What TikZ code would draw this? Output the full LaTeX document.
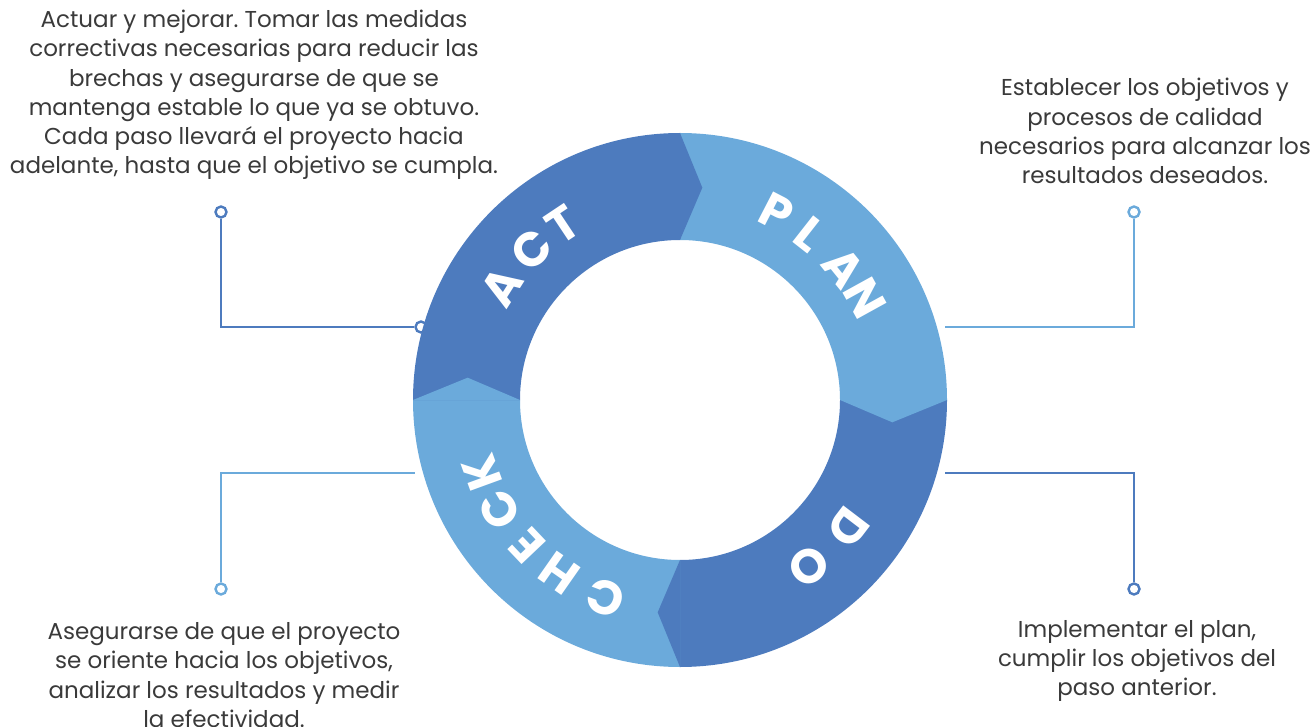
\documentclass[tikz,border=0pt]{standalone}
\usepackage{fontspec}
\setmainfont{Poppins}
\frenchspacing
\definecolor{darkb}{HTML}{4D7BBE}
\definecolor{lightb}{HTML}{6BAADB}
\definecolor{txt}{HTML}{3A3A3A}
\begin{document}
\begin{tikzpicture}[x=1pt,y=-1pt,
  conn/.style={line width=2.6pt},
  dot/.style={circle,draw,line width=2.4pt,fill=white,minimum size=11pt,inner sep=0pt},
  desc/.style={align=center,text=txt,font=\fontsize{23}{29.2}\selectfont,inner sep=0pt},
  letter/.style={text=white,font=\fontsize{48}{48}\bfseries\selectfont,inner sep=0pt}]
\useasboundingbox (0,0) rectangle (1312,727);

% connectors
\node[dot,draw=darkb] (actdot) at (221,212) {};
\coordinate (actcorner) at (221,327);
\node[dot,draw=darkb] (actring) at (421,327) {};
\draw[conn,darkb] (actdot) -- (actcorner) -- (actring);

\node[dot,draw=lightb] (plandot) at (1134,212) {};
\coordinate (plancorner) at (1134,327);
\coordinate (planring) at (945,327);
\draw[conn,lightb] (plandot) -- (plancorner) -- (planring);

\node[dot,draw=lightb] (checkdot) at (221,589) {};
\coordinate (checkcorner) at (221,473);
\coordinate (checkring) at (415,473);
\draw[conn,lightb] (checkdot) -- (checkcorner) -- (checkring);

\node[dot,draw=darkb] (dodot) at (1134,589) {};
\coordinate (docorner) at (1134,473);
\coordinate (doring) at (945,473);
\draw[conn,darkb] (dodot) -- (docorner) -- (doring);

% ring
\begin{scope}[shift={(680,400)},x=1pt,y=1pt]
\fill[lightb] (90:267) arc[start angle=90,end angle=0,radius=267] -- (0:160) arc[start angle=0,end angle=90,radius=160] -- cycle;
\fill[darkb] (0:267) arc[start angle=0,end angle=-90,radius=267] -- (-90:160) arc[start angle=-90,end angle=0,radius=160] -- cycle;
\fill[lightb] (-90:267) arc[start angle=-90,end angle=-180,radius=267] -- (-180:160) arc[start angle=-180,end angle=-90,radius=160] -- cycle;
\fill[darkb] (180:267) arc[start angle=180,end angle=90,radius=267] -- (90:160) arc[start angle=90,end angle=180,radius=160] -- cycle;
% chevrons
\fill[darkb] (90:267) -- (84:213.5) -- (90:160) -- cycle;
\fill[lightb] (0:267) -- (-6:213.5) -- (0:160) -- cycle;
\fill[darkb] (270:267) -- (264:213.5) -- (270:160) -- cycle;
\fill[lightb] (180:267) -- (174:213.5) -- (180:160) -- cycle;
% labels
\foreach \l/\a [count=\i] in {P/62.7,L/51.9,A/39,N/28.9}
  \node[letter,rotate=\a-90] (plan\i) at (\a:211) {\l};
\foreach \l/\a [count=\i] in {A/147.6,C/134.6,T/123.7}
  \node[letter,rotate=\a-90] (act\i) at (\a:211) {\l};
\foreach \l/\a [count=\i] in {D/-37.3,O/-52.2}
  \node[letter,rotate=\a-90] (do\i) at (\a:211) {\l};
\foreach \l/\a [count=\i] in {C/249.3,H/235,E/223.5,C/211.4,K/200}
  \node[letter,rotate=\a-90] (check\i) at (\a:211) {\l};
\end{scope}

% texts
\node[desc] (acttext) at (254,95) {Actuar y mejorar. Tomar las medidas\\correctivas necesarias para reducir las\\brechas y asegurarse de que se\\mantenga estable lo que ya se obtuvo.\\Cada paso llevará el proyecto hacia\\adelante, hasta que el objetivo se cumpla.};
\node[desc] (plantext) at (1145,131) {Establecer los objetivos y\\procesos de calidad\\necesarios para alcanzar los\\resultados deseados.};
\node[desc] (checktext) at (224,675) {Asegurarse de que el proyecto\\se oriente hacia los objetivos,\\analizar los resultados y medir\\la efectividad.};
\node[desc] (dotext) at (1137,661) {Implementar el plan,\\cumplir los objetivos del\\paso anterior.};
\end{tikzpicture}
\end{document}
